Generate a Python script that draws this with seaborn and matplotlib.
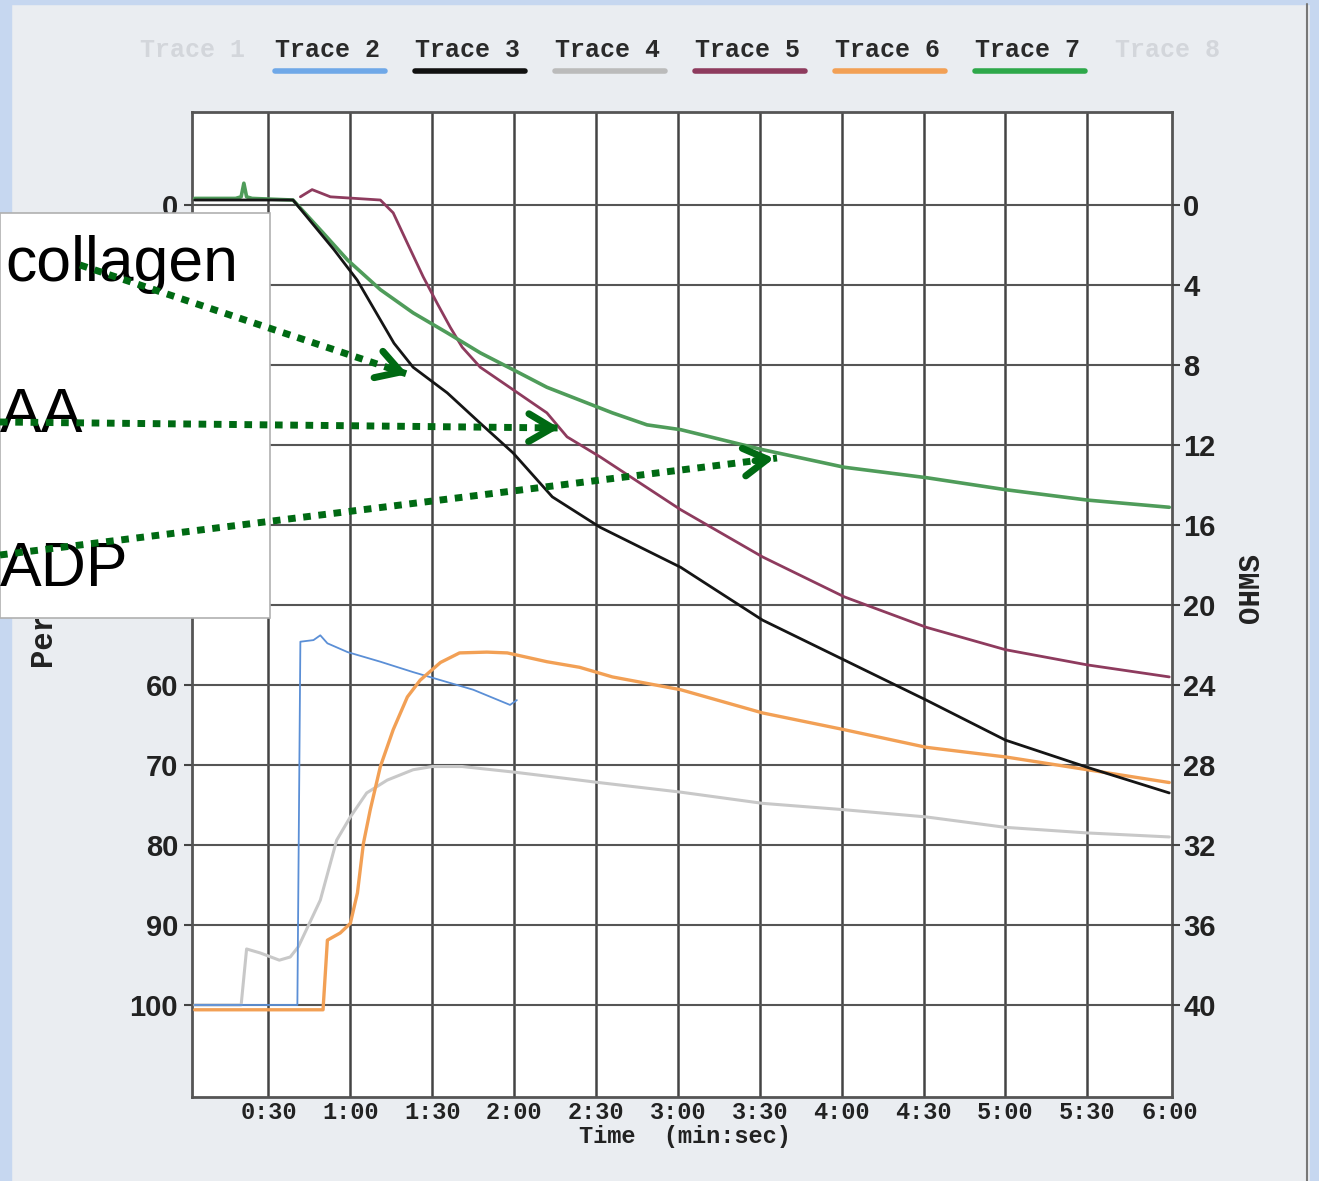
import numpy as np
import pandas as pd
import matplotlib
matplotlib.use("Agg")
import matplotlib.pyplot as plt
import seaborn as sns
from matplotlib.lines import Line2D
from matplotlib.patches import Rectangle
from matplotlib.transforms import Bbox

# trace data: time in seconds, percent aggregation
trace2_t = [3, 40, 40.6, 41.7, 46.5, 49, 51.6, 59, 71, 83, 93, 105, 118.5, 121]
trace2_y = [100, 100, 100, 54.6, 54.4, 53.8, 54.8, 55.9, 57.1, 58.4, 59.4, 60.6, 62.5, 61.9]

trace3_t = [3, 39, 54, 62.5, 76, 83, 95.5, 107.6, 119.6, 134, 151.5, 181, 211, 241, 271, 300, 330, 360]
trace3_y = [-0.6, -0.6, 5.6, 9.4, 17.3, 20.3, 23.5, 27.3, 31, 36.5, 40.3, 45.3, 51.9, 56.9, 61.9, 66.9, 70.3, 73.5]

trace4_t = [3, 20, 22, 27, 34, 38, 41, 49, 55, 60, 66, 73.5, 83, 90, 101, 120, 144, 151, 181, 211, 241, 271, 300, 330, 360]
trace4_y = [100, 100, 93, 93.5, 94.4, 94, 92.7, 86.9, 79.4, 76.5, 73.5, 71.9, 70.6, 70.2, 70.2, 70.9, 71.9, 72.2, 73.4, 74.8, 75.6, 76.5, 77.8, 78.5, 79]

trace5_t = [41.7, 46, 52.7, 71, 75.7, 80.9, 86.7, 91.8, 96.6, 101, 107.6, 119.6, 132, 139.4, 151.5, 181, 211, 241, 271, 300, 330, 360]
trace5_y = [-1, -1.9, -1, -0.6, 1, 4.8, 9, 12.3, 15.3, 17.8, 20.3, 23.1, 26, 29, 31.5, 38.1, 44, 49, 52.8, 55.6, 57.5, 59]

trace6_t = [3, 50, 51.6, 56.3, 60, 62.6, 64.8, 67.3, 71, 75.7, 80.9, 85.6, 93, 100, 110, 117.5, 132, 144, 156, 181, 211, 241, 271, 300, 330, 360]
trace6_y = [100.6, 100.6, 91.9, 91, 89.8, 86, 79.8, 75.6, 70.2, 65.6, 61.5, 59.4, 57.2, 56, 55.9, 56, 57.1, 57.8, 59, 60.6, 63.5, 65.6, 67.8, 69, 70.6, 72.2]

trace7_t = [3, 18, 20, 21, 22, 24, 39, 50, 59, 71, 83, 95.5, 107.6, 119.6, 132, 144, 156, 168.7, 181, 211, 241, 271, 300, 330, 360]
trace7_y = [-0.8, -0.8, -1, -2.7, -1, -0.8, -0.6, 3.5, 6.9, 10.6, 13.5, 16, 18.5, 20.6, 22.8, 24.4, 26, 27.5, 28.1, 30.6, 32.8, 34.1, 35.6, 36.9, 37.8]

legend_names = ["Trace 1", "Trace 2", "Trace 3", "Trace 4", "Trace 5", "Trace 6", "Trace 7", "Trace 8"]
x_ticks = [30, 60, 90, 120, 150, 180, 210, 240, 270, 300, 330, 360]
x_labels = ["0:30", "1:00", "1:30", "2:00", "2:30", "3:00", "3:30", "4:00", "4:30", "5:00", "5:30", "6:00"]
y_ticks = [0, 10, 20, 30, 40, 50, 60, 70, 80, 90, 100]
y_labels = ["0", "", "", "", "", "", "60", "70", "80", "90", "100"]  # 10-50 sit under the note box
ohm_ticks = [0, 4, 8, 12, 16, 20, 24, 28, 32, 36, 40]
agonists = ["collagen", "AA", "ADP"]

palette = {
    "Trace 2": "#5b8fd6",
    "Trace 3": "#151515",
    "Trace 4": "#c8c8c8",
    "Trace 5": "#8e3b5e",
    "Trace 6": "#f2a055",
    "Trace 7": "#4f9c5a",
}
widths = {"Trace 2": 1.3, "Trace 3": 2.0, "Trace 4": 2.2, "Trace 5": 2.0, "Trace 6": 2.4, "Trace 7": 2.6}

frames = []
for name, t, y in [("Trace 2", trace2_t, trace2_y), ("Trace 3", trace3_t, trace3_y),
                   ("Trace 4", trace4_t, trace4_y), ("Trace 5", trace5_t, trace5_y),
                   ("Trace 6", trace6_t, trace6_y), ("Trace 7", trace7_t, trace7_y)]:
    frames.append(pd.DataFrame({"time": t, "pct": y, "trace": name}))
df = pd.concat(frames, ignore_index=True)

sns.set_style("white")
BG = "#eaedf1"
MONO = "Liberation Mono"
NUM = "Liberation Sans"
fig = plt.figure(figsize=(13.19, 11.81), dpi=100, facecolor=BG)
ax = fig.add_axes([192 / 1319, 1 - 1097 / 1181, (1172 - 192) / 1319, (1097 - 112) / 1181])
ax.set_facecolor("white")

# grid
for xv in x_ticks[:-1]:
    ax.axvline(xv, color="#444444", lw=1.8, zorder=1)
for yv in y_ticks:
    ax.axhline(yv, color="#555555", lw=1.5, zorder=1)

draw_order = ["Trace 4", "Trace 2", "Trace 6", "Trace 5", "Trace 7", "Trace 3"]
for name in draw_order:
    sub = df[df["trace"] == name]
    sns.lineplot(data=sub, x="time", y="pct", color=palette[name], lw=widths[name],
                 ax=ax, sort=False, estimator=None, zorder=3)

ax.set_xlim(2, 361)
ax.set_ylim(111.5, -11.6)
ax.set_xticks(x_ticks)
ax.set_xticklabels(x_labels, fontsize=17, fontweight="bold", family=MONO, color="#222222")
ax.set_yticks(y_ticks)
ax.set_yticklabels(y_labels, fontsize=21, fontweight="bold", color="#222222", family=NUM)
ax.tick_params(axis="x", length=0, pad=3)
ax.tick_params(axis="y", length=6, width=1.5, color="#444444", pad=4)
ax.set_xlabel("")
ax.set_ylabel("")
for sp in ax.spines.values():
    sp.set_color("#555555")
    sp.set_linewidth(2)

ax2 = ax.twinx()
ax2.set_ylim(111.5 * 0.4, -11.6 * 0.4)
ax2.set_yticks(ohm_ticks)
ax2.set_yticklabels([str(v) for v in ohm_ticks], fontsize=21, fontweight="bold", color="#222222",
                    family=NUM)
ax2.tick_params(axis="y", length=6, width=1.5, color="#444444", pad=2)
for sp in ax2.spines.values():
    sp.set_visible(False)

fig.text(685 / 1319, 1 - 1137 / 1181, "Time  (min:sec)", ha="center", va="center",
         fontsize=17, fontweight="bold", family=MONO, color="#222222")
fig.text(1251 / 1319, 1 - 588 / 1181, "OHMS", rotation=90, ha="center", va="center",
         fontsize=21, fontweight="bold", family=MONO, color="#222222")
ylab = fig.text(45 / 1319, 1 - 668 / 1181, "Percent Aggregation", rotation=90, ha="center",
                va="bottom", fontsize=22, fontweight="bold", family=MONO, color="#222222")
# only the part below the note box shows, as in the scan
ylab.set_clip_box(Bbox.from_extents(0, 0, 190, 1181 - 619))

# legend row across the top
leg_x = [140, 275, 415, 555, 695, 835, 975, 1115]
leg_colors = [None, "#6fa8e8", "#111111", "#bbbbbb", "#8e3b5e", "#f2a055", "#2ea84a", None]
for name, lx, lc in zip(legend_names, leg_x, leg_colors):
    faded = lc is None
    fig.text(lx / 1319, 1 - 50 / 1181, name, ha="left", va="center", fontsize=18,
             fontweight="bold", family=MONO,
             color="#d3d6db" if faded else "#2a2a2a")
    if not faded:
        fig.add_artist(Line2D([lx / 1319, (lx + 110) / 1319], [1 - 71 / 1181] * 2,
                              color=lc, lw=4, transform=fig.transFigure))

# scan border strips
fig.add_artist(Rectangle((0, 0), 11 / 1319, 1, transform=fig.transFigure, color="#c6d7f0", zorder=0))
fig.add_artist(Rectangle((1310 / 1319, 0), 9 / 1319, 1, transform=fig.transFigure, color="#c6d7f0", zorder=0))
fig.add_artist(Rectangle((0, 1 - 4 / 1181), 1, 4 / 1181, transform=fig.transFigure, color="#c6d7f0", zorder=0))
fig.add_artist(Line2D([1307 / 1319] * 2, [0, 1 - 4 / 1181], color="#777777", lw=1.5, transform=fig.transFigure))

# note box with agonist labels and dotted arrows
fig.add_artist(Rectangle((0, 1 - 618 / 1181), 270 / 1319, (618 - 213) / 1181, transform=fig.transFigure,
                         facecolor="white", edgecolor="#b0b0b0", lw=1.2, zorder=5))
label_pos = [(5, 265), (0, 416), (0, 570)]
for txt, (tx, ty) in zip(agonists, label_pos):
    fig.text(tx / 1319, 1 - ty / 1181, txt, ha="left", va="center", fontsize=45,
             family="Liberation Sans", color="black", zorder=6)

arrows = [((80, 265), (410, 375)), ((0, 422), (562, 428)), ((0, 555), (777, 458))]
for (x0, y0), (x1, y1) in arrows:
    p0 = (x0, 1181 - y0)
    p1 = (x1, 1181 - y1)
    fig.add_artist(Line2D([p0[0] / 1319, p1[0] / 1319], [p0[1] / 1181, p1[1] / 1181],
                          color="#006a13", lw=5, linestyle=(0, (1.1, 1.1)), dash_capstyle="butt",
                          transform=fig.transFigure, zorder=7))
    d = np.array(p1) - np.array(p0)
    d = d / np.hypot(*d)
    start = np.array(p1) - d * 25
    ax.annotate("", xy=p1, xycoords="figure pixels", xytext=tuple(start), textcoords="figure pixels",
                arrowprops=dict(arrowstyle="->,head_length=1.7,head_width=1.0", color="#006a13", lw=5),
                zorder=8, annotation_clip=False)

fig.savefig("out.png", dpi=100, facecolor=BG)
